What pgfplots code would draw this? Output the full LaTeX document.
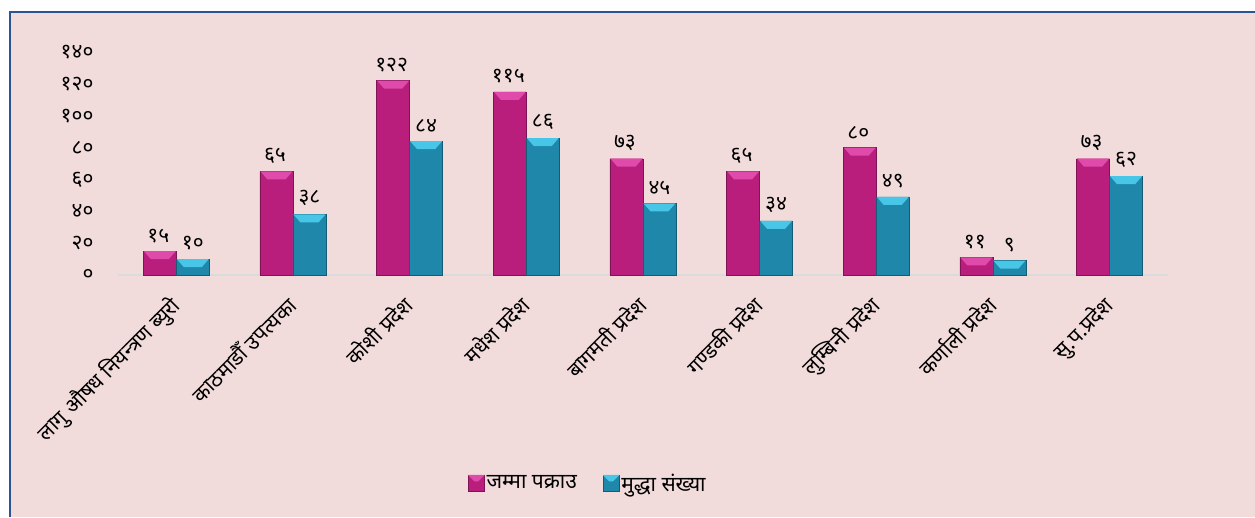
\documentclass[border=0pt]{standalone}
\usepackage{fontspec}
\setmainfont[Script=Devanagari]{Noto Sans}
\usepackage{pgfplots}
\pgfplotsset{compat=1.18}

\definecolor{bgpink}{HTML}{F2DCDB}
\definecolor{frameblue}{HTML}{2B5592}
\definecolor{magbody}{HTML}{B91E7D}
\definecolor{magtop}{HTML}{E04AAA}
\definecolor{magedge}{HTML}{7E1456}
\definecolor{tealbody}{HTML}{1F87A9}
\definecolor{tealtop}{HTML}{48C6E8}
\definecolor{tealedge}{HTML}{135C74}

% lighter top face drawn on each bar top
\pgfdeclareplotmark{bevel}{%
  \pgfpathmoveto{\pgfqpoint{-16pt}{0pt}}%
  \pgfpathlineto{\pgfqpoint{16pt}{0pt}}%
  \pgfpathlineto{\pgfqpoint{9pt}{-8pt}}%
  \pgfpathlineto{\pgfqpoint{-9pt}{-8pt}}%
  \pgfpathclose
  \pgfusepathqfill}

\pgfplotstableread{
x  pak  pakl  mud  mudl
0  15   १५    10   १०
1  65   ६५    38   ३८
2  122  १२२   84   ८४
3  115  ११५   86   ८६
4  73   ७३    45   ४५
5  65   ६५    34   ३४
6  80   ८०    49   ४९
7  11   ११    9    ९
8  73   ७३    62   ६२
}\datatable

\begin{document}
\begin{tikzpicture}
\useasboundingbox (0,0) rectangle (1255pt,517pt);
\fill[bgpink] (10pt,0) rectangle (1255pt,505pt);
\draw[frameblue, line width=2pt] (10pt,0) -- (10pt,505pt) -- (1255pt,505pt);

\begin{axis}[
  at={(118pt,242pt)}, anchor=south west,
  scale only axis, width=1050pt, height=223pt,
  xmin=-0.5, xmax=8.5, ymin=0, ymax=140,
  axis x line=bottom, axis y line=left,
  y axis line style={draw=none},
  x axis line style={-, draw=black!14, line width=2pt},
  major tick length=0pt,
  xtick={0,...,8},
  xticklabels={लागु औषध नियन्त्रण ब्युरो, काठमाडौँ उपत्यका, कोशी प्रदेश,
    मधेश प्रदेश, बागमती प्रदेश, गण्डकी प्रदेश, लुम्बिनी प्रदेश,
    कर्णाली प्रदेश, सु.प.प्रदेश},
  xticklabel style={font=\fontsize{21}{24}\selectfont, xshift=-8pt, yshift=-14pt,
    rotate=45, anchor=north east},
  ytick={0,20,...,140},
  yticklabels={०,२०,४०,६०,८०,१००,१२०,१४०},
  yticklabel style={font=\fontsize{21}{24}\selectfont, xshift=-21pt},
  every node near coord/.append style={font=\fontsize{21}{24}\selectfont,
    black, anchor=south, yshift=5pt},
  legend style={at={(0.4476,-0.933)}, anchor=center, legend columns=2,
    draw=none, fill=none, font=\fontsize{21}{24}\selectfont,
    /tikz/every even column/.append style={column sep=24pt}},
]
\addplot[ybar, bar width=33pt, bar shift=-16.5pt,
  fill=magbody, draw=magedge,
  nodes near coords, point meta=explicit symbolic,
  nodes near coords style={xshift=-18pt},
  legend image code/.code={
    \fill[magbody, draw=magedge] (0pt,-8pt) rectangle (16pt,8pt);
    \fill[magtop] (0pt,8pt) -- (16pt,8pt) -- (10pt,2pt) -- (6pt,2pt) -- cycle;}]
  table[x=x, y=pak, meta=pakl] {\datatable};
\addplot[ybar, bar width=33pt, bar shift=16.5pt,
  fill=tealbody, draw=tealedge,
  nodes near coords, point meta=explicit symbolic,
  nodes near coords style={xshift=16.5pt},
  legend image code/.code={
    \fill[tealbody, draw=tealedge] (0pt,-8pt) rectangle (16pt,8pt);
    \fill[tealtop] (0pt,8pt) -- (16pt,8pt) -- (10pt,2pt) -- (6pt,2pt) -- cycle;}]
  table[x=x, y=mud, meta=mudl] {\datatable};
\addplot[only marks, mark=bevel, mark options={fill=magtop, xshift=-16.5pt},
  forget plot] table[x=x, y=pak] {\datatable};
\addplot[only marks, mark=bevel, mark options={fill=tealtop, xshift=16.5pt},
  forget plot] table[x=x, y=mud] {\datatable};
\legend{जम्मा पक्राउ, मुद्धा संख्या}
\end{axis}
\end{tikzpicture}
\end{document}
